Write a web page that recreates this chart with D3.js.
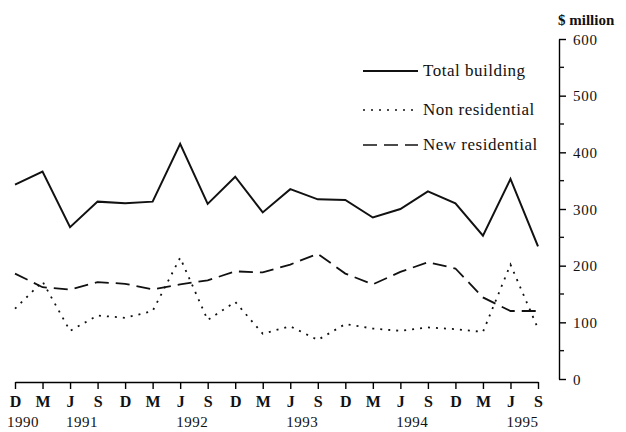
<!DOCTYPE html>
<html>
<head>
<meta charset="utf-8">
<script src="https://cdn.jsdelivr.net/npm/d3@7"></script>
<style>
body { margin: 0; background: #fff; }
svg { display: block; }
text { font-family: "Liberation Serif", "DejaVu Serif", serif; fill: #111; }
</style>
</head>
<body>
<svg id="chart" width="626" height="432"></svg>
<script>
// quarters Dec 1990 .. Sep 1995
var months = ["D","M","J","S","D","M","J","S","D","M","J","S","D","M","J","S","D","M","J","S"];
var yearLabels = ["1990","1991","1992","1993","1994","1995"];
var yearIndex = [0, 2, 6, 10, 14, 18];

var totalBuilding = [343,366,268,313,310,313,415,309,357,294,335,317,316,285,300,331,310,253,353,234];
var nonResidential = [124,172,85,112,108,120,214,104,136,80,93,69,97,89,85,91,88,83,202,89];
var newResidential = [186,162,158,171,168,158,167,174,190,188,202,221,186,167,189,206,195,144,120,120];

var yTicks = [0,100,200,300,400,500,600];
var yMinor = [50,150,250,350,450,550];

var svg = d3.select("#chart");
var x = d3.scaleLinear().domain([0, months.length-1]).range([15, 538]);
var y = d3.scaleLinear().domain([0, 600]).range([379, 39]);

// y axis on the right
var yAxis = d3.axisRight(y).tickValues(yTicks).tickSize(7).tickPadding(7).tickSizeOuter(0);
var gy = svg.append("g").attr("transform","translate(559,0)").call(yAxis);
gy.selectAll("text").style("font-size","15px").style("letter-spacing","0.8px").attr("dy","0.35em");
gy.select(".domain").attr("stroke-width",1.4);
gy.selectAll(".tick line").attr("stroke-width",1.4);
gy.selectAll(".minor").data(yMinor).enter().append("line")
    .attr("x1",0).attr("x2",5)
    .attr("y1",function(d){return y(d);})
    .attr("y2",function(d){return y(d);})
    .attr("stroke","#111").attr("stroke-width",1.4);

svg.append("text").text("$ million")
    .attr("x",558).attr("y",25)
    .style("font-size","15px").style("font-weight","bold");

// x axis
var xAxis = d3.axisBottom(x).tickValues(d3.range(months.length))
    .tickFormat(function(i){return months[i];})
    .tickSize(7).tickPadding(7).tickSizeOuter(0);
var gx = svg.append("g").attr("transform","translate(0,382)").call(xAxis);
gx.selectAll("text").style("font-size","16px").style("font-weight","bold");
gx.select(".domain").attr("stroke-width",1.6);
gx.selectAll(".tick line").attr("stroke-width",1.4);

svg.selectAll(".year").data(yearLabels).enter().append("text")
    .attr("class","year")
    .text(function(d){return d;})
    .attr("x",function(d,i){return x(yearIndex[i]) + (i==0 ? 8 : 12);})
    .attr("y",427)
    .attr("text-anchor","middle")
    .style("font-size","15px").style("letter-spacing","0.5px");

// series
var line = d3.line().x(function(d,i){return x(i);}).y(function(d){return y(d);});

svg.append("path").datum(newResidential).attr("d",line)
    .attr("fill","none").attr("stroke","#111").attr("stroke-width",1.8)
    .attr("stroke-dasharray","14,7");
svg.append("path").datum(nonResidential).attr("d",line)
    .attr("fill","none").attr("stroke","#111").attr("stroke-width",1.8)
    .attr("stroke-dasharray","2,6");
svg.append("path").datum(totalBuilding).attr("d",line)
    .attr("fill","none").attr("stroke","#111").attr("stroke-width",2);

// legend
var legend = [
    {name:"Total building", dash:null, y:71},
    {name:"Non residential", dash:"2,6", y:110},
    {name:"New residential", dash:"14,7", y:145}
];
legend.forEach(function(l){
    svg.append("line").attr("x1",363).attr("x2",418).attr("y1",l.y).attr("y2",l.y)
        .attr("stroke","#111").attr("stroke-width",l.dash ? 1.6 : 2)
        .attr("stroke-dasharray",l.dash);
    svg.append("text").text(l.name).attr("x",423).attr("y",l.y+5)
        .style("font-size","17px").style("letter-spacing","0.5px");
});
</script>
</body>
</html>
